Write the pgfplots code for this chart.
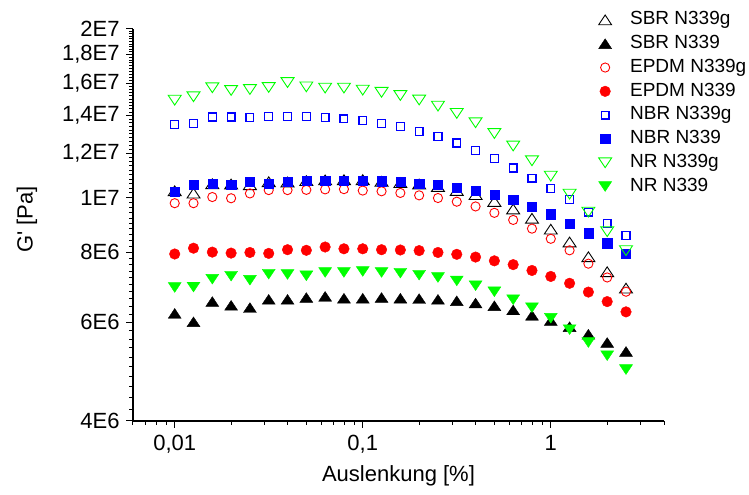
\documentclass[border=0pt]{standalone}
\usepackage{fontspec}
\setmainfont{Liberation Sans}
\usepackage{pgfplots}
\usepackage{pgfplotstable}
\pgfplotsset{compat=1.18}

\pgfplotstableread{
x        SBRg     SBR     EPDMg    EPDM    NBRg     NBR      NRg      NR
0.01     1.029e7  6.22e6  9.78e6   7.94e6  1.350e7  1.026e7  1.493e7  6.92e6
0.012589 1.019e7  6.01e6  9.78e6   8.13e6  1.357e7  1.054e7  1.514e7  6.93e6
0.015849 1.059e7  6.53e6  1.003e7  8.00e6  1.393e7  1.058e7  1.571e7  7.16e6
0.019953 1.058e7  6.43e6  9.98e6   7.97e6  1.393e7  1.055e7  1.554e7  7.25e6
0.025119 1.055e7  6.37e6  1.018e7  7.99e6  1.389e7  1.067e7  1.560e7  7.13e6
0.031623 1.068e7  6.59e6  1.032e7  7.96e6  1.396e7  1.060e7  1.573e7  7.31e6
0.039811 1.067e7  6.59e6  1.032e7  8.08e6  1.396e7  1.067e7  1.605e7  7.30e6
0.050119 1.073e7  6.64e6  1.033e7  8.06e6  1.395e7  1.071e7  1.577e7  7.26e6
0.063096 1.076e7  6.67e6  1.035e7  8.17e6  1.391e7  1.071e7  1.569e7  7.36e6
0.079433 1.077e7  6.62e6  1.036e7  8.11e6  1.383e7  1.073e7  1.569e7  7.36e6
0.1      1.077e7  6.62e6  1.030e7  8.11e6  1.374e7  1.073e7  1.556e7  7.39e6
0.12589  1.070e7  6.64e6  1.027e7  8.08e6  1.357e7  1.070e7  1.542e7  7.36e6
0.15849  1.064e7  6.62e6  1.020e7  8.07e6  1.339e7  1.069e7  1.522e7  7.34e6
0.19953  1.058e7  6.61e6  1.010e7  8.05e6  1.313e7  1.060e7  1.494e7  7.28e6
0.25119  1.047e7  6.59e6  9.99e6   7.99e6  1.285e7  1.056e7  1.457e7  7.21e6
0.31623  1.030e7  6.55e6  9.84e6   7.93e6  1.252e7  1.043e7  1.414e7  7.11e6
0.39811  1.013e7  6.49e6  9.65e6   7.84e6  1.214e7  1.029e7  1.361e7  6.97e6
0.50119  9.85e6   6.42e6  9.40e6   7.72e6  1.174e7  1.012e7  1.302e7  6.80e6
0.63096  9.55e6   6.31e6  9.13e6   7.60e6  1.130e7  9.91e6   1.237e7  6.58e6
0.79433  9.19e6   6.17e6  8.81e6   7.42e6  1.084e7  9.63e6   1.164e7  6.37e6
1.0      8.79e6   6.04e6  8.45e6   7.24e6  1.038e7  9.35e6   1.093e7  6.10e6
1.2589   8.34e6   5.89e6  8.06e6   7.04e6  9.92e6   8.99e6   1.015e7  5.82e6
1.5849   7.85e6   5.71e6  7.63e6   6.79e6  9.43e6   8.65e6   9.43e6   5.52e6
1.9953   7.38e6   5.52e6  7.21e6   6.53e6  9.00e6   8.30e6   8.70e6   5.23e6
2.5119   6.90e6   5.32e6  6.80e6   6.26e6  8.56e6   7.94e6   8.05e6   4.94e6
}\data

\definecolor{cgreen}{RGB}{0,255,0}
\definecolor{cblue}{RGB}{0,0,255}
\definecolor{cred}{RGB}{255,0,0}

\begin{document}
\begin{tikzpicture}
\begin{axis}[
  scale only axis, width=531bp, height=392bp,
  xmode=log, ymode=log,
  xmin=0.006, xmax=4, ymin=4e6, ymax=2e7,
  axis x line*=bottom, axis y line*=left,
  axis line style={line width=1.3bp, black, -},
  tick align=outside,
  major tick length=7bp, minor tick length=4bp,
  every tick/.style={black, line width=1bp},
  xtick={0.01,0.1,1},
  xticklabels={{0,01},{0,1},1},
  minor xtick={0.006,0.007,0.008,0.009,0.02,0.03,0.04,0.05,0.06,0.07,0.08,0.09,0.2,0.3,0.4,0.5,0.6,0.7,0.8,0.9,2,3,4},
  ytick={4e6,6e6,8e6,1e7,1.2e7,1.4e7,1.6e7,1.8e7,2e7},
  yticklabels={4E6,6E6,8E6,1E7,{1,2E7},{1,4E7},{1,6E7},{1,8E7},2E7},
  minor ytick={4.2e6,4.4e6,4.6e6,4.8e6,5e6,5.2e6,5.4e6,5.6e6,5.8e6,
    6.2e6,6.4e6,6.6e6,6.8e6,7e6,7.2e6,7.4e6,7.6e6,7.8e6,
    8.2e6,8.4e6,8.6e6,8.8e6,9e6,9.2e6,9.4e6,9.6e6,9.8e6,
    1.02e7,1.04e7,1.06e7,1.08e7,1.1e7,1.12e7,1.14e7,1.16e7,1.18e7,
    1.22e7,1.24e7,1.26e7,1.28e7,1.3e7,1.32e7,1.34e7,1.36e7,1.38e7,
    1.42e7,1.44e7,1.46e7,1.48e7,1.5e7,1.52e7,1.54e7,1.56e7,1.58e7,
    1.62e7,1.64e7,1.66e7,1.68e7,1.7e7,1.72e7,1.74e7,1.76e7,1.78e7,
    1.82e7,1.84e7,1.86e7,1.88e7,1.9e7,1.92e7,1.94e7,1.96e7,1.98e7},
  ticklabel style={font=\fontsize{22bp}{26bp}\selectfont},
  xticklabel style={yshift=-4bp},
  yticklabel style={xshift=-3bp},
  xlabel={Auslenkung [\%]},
  ylabel={G\textquotesingle{} [Pa]},
  every axis x label/.style={at={(axis description cs:0.5,-0.1556)}, anchor=base, font=\fontsize{22bp}{26bp}\selectfont},
  every axis y label/.style={at={(axis description cs:-0.1996,0.514)}, rotate=90, anchor=center, font=\fontsize{22bp}{26bp}\selectfont},
  legend style={at={(axis description cs:0.877,1.048)}, anchor=north west,
    draw=none, fill=none, inner sep=0pt, outer sep=0pt,
    font=\fontsize{19bp}{22bp}\selectfont,
    row sep=4.2bp, column sep=17.5bp,
    nodes={inner sep=1bp, text height=13.6bp, text depth=4bp}},
  legend cell align=left,
  clip=false,
]
\addplot[black, only marks, mark=triangle, mark size=6.5bp, mark options={yshift=-1.6bp, xscale=1.15, draw=black, line width=0.9bp}] table[x=x,y=SBRg]{\data};
\addlegendentry{SBR N339g}
\addplot[black, only marks, mark=triangle*, mark size=6.5bp, mark options={yshift=-1.6bp, xscale=1.15, draw=black, fill=black}] table[x=x,y=SBR]{\data};
\addlegendentry{SBR N339}
\addplot[cred, only marks, mark=o, mark size=4.6bp, mark options={draw=cred, line width=0.9bp}] table[x=x,y=EPDMg]{\data};
\addlegendentry{EPDM N339g}
\addplot[cred, only marks, mark=*, mark size=5.3bp, mark options={draw=cred, fill=cred}] table[x=x,y=EPDM]{\data};
\addlegendentry{EPDM N339}
\addplot[cblue, only marks, mark=square, mark size=3.9bp, mark options={draw=cblue, fill=none, line width=1.3bp}] table[x=x,y=NBRg]{\data};
\addlegendentry{NBR N339g}
\addplot[cblue, only marks, mark=square*, mark size=4.6bp, mark options={draw=cblue, fill=cblue}] table[x=x,y=NBR]{\data};
\addlegendentry{NBR N339}
\addplot[cgreen, only marks, mark=triangle, mark size=6.5bp, mark options={yshift=1.6bp, rotate=180, xscale=1.15, draw=cgreen, line width=0.9bp}] table[x=x,y=NRg]{\data};
\addlegendentry{NR N339g}
\addplot[cgreen, only marks, mark=triangle*, mark size=6.5bp, mark options={yshift=1.6bp, rotate=180, xscale=1.15, draw=cgreen, fill=cgreen}] table[x=x,y=NR]{\data};
\addlegendentry{NR N339}
\end{axis}
\pgfresetboundingbox
\useasboundingbox (-133bp,-74bp) rectangle (616bp,421bp);
\end{tikzpicture}
\end{document}
